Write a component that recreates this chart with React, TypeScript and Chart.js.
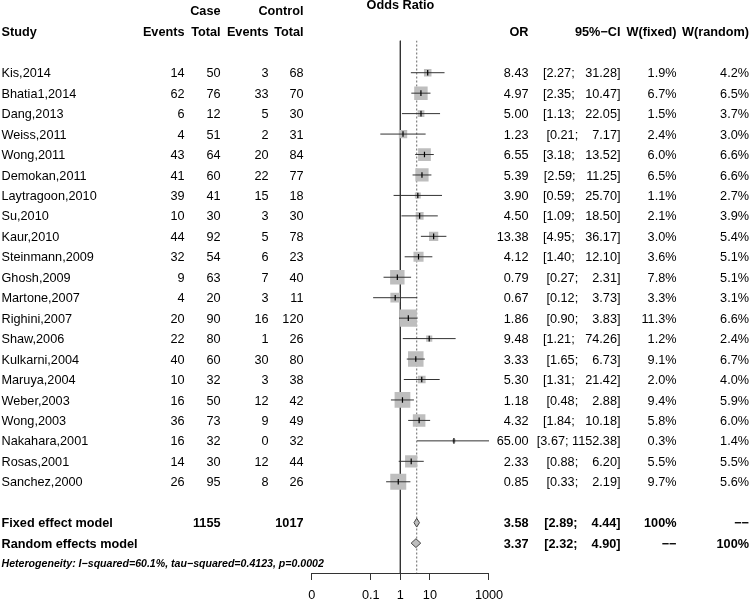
import React, { useEffect, useRef } from 'react';
import { Chart, registerables } from 'chart.js';

Chart.register(...registerables);

// ---------- data ----------
const STUDIES = [
  'Kis,2014', 'Bhatia1,2014', 'Dang,2013', 'Weiss,2011', 'Wong,2011', 'Demokan,2011',
  'Laytragoon,2010', 'Su,2010', 'Kaur,2010', 'Steinmann,2009', 'Ghosh,2009', 'Martone,2007',
  'Righini,2007', 'Shaw,2006', 'Kulkarni,2004', 'Maruya,2004', 'Weber,2003', 'Wong,2003',
  'Nakahara,2001', 'Rosas,2001', 'Sanchez,2000',
];
const CASE_EVENTS = [14, 62, 6, 4, 43, 41, 39, 10, 44, 32, 9, 4, 20, 22, 40, 10, 16, 36, 16, 14, 26];
const CASE_TOTAL = [50, 76, 12, 51, 64, 60, 41, 30, 92, 54, 63, 20, 90, 80, 60, 32, 50, 73, 32, 30, 95];
const CTRL_EVENTS = [3, 33, 5, 2, 20, 22, 15, 3, 5, 6, 7, 3, 16, 1, 30, 3, 12, 9, 0, 12, 8];
const CTRL_TOTAL = [68, 70, 30, 31, 84, 77, 18, 30, 78, 23, 40, 11, 120, 26, 80, 38, 42, 49, 32, 44, 26];
const OR = [8.43, 4.97, 5.0, 1.23, 6.55, 5.39, 3.9, 4.5, 13.38, 4.12, 0.79, 0.67, 1.86, 9.48, 3.33, 5.3, 1.18, 4.32, 65.0, 2.33, 0.85];
const CI_LO = [2.27, 2.35, 1.13, 0.21, 3.18, 2.59, 0.59, 1.09, 4.95, 1.4, 0.27, 0.12, 0.9, 1.21, 1.65, 1.31, 0.48, 1.84, 3.67, 0.88, 0.33];
const CI_HI = [31.28, 10.47, 22.05, 7.17, 13.52, 11.25, 25.7, 18.5, 36.17, 12.1, 2.31, 3.73, 3.83, 74.26, 6.73, 21.42, 2.88, 10.18, 1152.38, 6.2, 2.19];
const W_FIXED = [1.9, 6.7, 1.5, 2.4, 6.0, 6.5, 1.1, 2.1, 3.0, 3.6, 7.8, 3.3, 11.3, 1.2, 9.1, 2.0, 9.4, 5.8, 0.3, 5.5, 9.7];
const W_RANDOM = [4.2, 6.5, 3.7, 3.0, 6.6, 6.6, 2.7, 3.9, 5.4, 5.1, 5.1, 3.1, 6.6, 2.4, 6.7, 4.0, 5.9, 6.0, 1.4, 5.5, 5.6];

const SUMMARY_LABELS = ['Fixed effect model', 'Random effects model'];
const SUMMARY_CASE_TOTAL = ['1155', ''];
const SUMMARY_CTRL_TOTAL = ['1017', ''];
const SUMMARY_OR = [3.58, 3.37];
const SUMMARY_LO = [2.89, 2.32];
const SUMMARY_HI = [4.44, 4.9];
const SUMMARY_W_FIXED = ['100%', '\u2212\u2212'];
const SUMMARY_W_RANDOM = ['\u2212\u2212', '100%'];
const HETEROGENEITY = 'Heterogeneity: I\u2212squared=60.1%, tau\u2212squared=0.4123, p=0.0002';

const TICK_VALUES = [0.001, 0.1, 1, 10, 1000];
const TICK_LABELS = ['0', '0.1', '1', '10', '1000'];
const NULL_EFFECT = 1;
const AXIS_TITLE = 'Odds Ratio';

// ---------- layout / style ----------
const FONT = '"Liberation Sans", Arial, Helvetica, sans-serif';
const FS = 12.7;
const Y_MIN = -1.575;
const Y_MAX = 24.46;
const SQUARE_GREY = '#BEBEBE';

const fmtCI = (lo: number, hi: number, pad: number) =>
  `[${lo.toFixed(2)}; ${hi.toFixed(2).padStart(pad, ' ')}]`;

const tablePlugin = {
  id: 'forestTable',
  afterDraw(chart: any) {
    const ctx: CanvasRenderingContext2D = chart.ctx;
    const ys = chart.scales.y;
    const area = chart.chartArea;
    const pad = Math.max(...CI_HI.map((v) => v.toFixed(2).length), ...SUMMARY_HI.map((v) => v.toFixed(2).length));
    const capOff = 0.358 * FS;
    const put = (s: string, x: number, y: number, align: CanvasTextAlign, bold = false, italic = false, size = FS) => {
      ctx.font = `${italic ? 'italic ' : ''}${bold ? 'bold ' : ''}${size}px ${FONT}`;
      ctx.textAlign = align;
      ctx.fillText(s, x, y);
    };
    const C = { study: 1.5, ce: 184.5, ct: 220.5, ke: 268.5, kt: 303.5, or: 528.5, ci: 620.5, wf: 676.5, wr: 749 };
    ctx.save();
    ctx.fillStyle = '#000';
    ctx.textBaseline = 'alphabetic';

    // headers
    put(AXIS_TITLE, (area.left + area.right) / 2, 9.3, 'center', true);
    put('Case', C.ct, 15.3, 'right', true);
    put('Control', C.kt, 15.3, 'right', true);
    const hy = 35.9;
    put('Study', C.study, hy, 'left', true);
    put('Events', C.ce, hy, 'right', true);
    put('Total', C.ct, hy, 'right', true);
    put('Events', C.ke, hy, 'right', true);
    put('Total', C.kt, hy, 'right', true);
    put('OR', C.or, hy, 'right', true);
    put('95%\u2212CI', C.ci, hy, 'right', true);
    put('W(fixed)', C.wf, hy, 'right', true);
    put('W(random)', C.wr, hy, 'right', true);

    // studies
    STUDIES.forEach((name, i) => {
      const y = ys.getPixelForValue(i) + capOff;
      put(name, C.study, y, 'left');
      put(String(CASE_EVENTS[i]), C.ce, y, 'right');
      put(String(CASE_TOTAL[i]), C.ct, y, 'right');
      put(String(CTRL_EVENTS[i]), C.ke, y, 'right');
      put(String(CTRL_TOTAL[i]), C.kt, y, 'right');
      put(OR[i].toFixed(2), C.or, y, 'right');
      put(fmtCI(CI_LO[i], CI_HI[i], pad), C.ci, y, 'right');
      put(W_FIXED[i].toFixed(1) + '%', C.wf, y, 'right');
      put(W_RANDOM[i].toFixed(1) + '%', C.wr, y, 'right');
    });

    // summaries
    SUMMARY_LABELS.forEach((label, j) => {
      const y = ys.getPixelForValue(STUDIES.length + 1 + j) + capOff;
      put(label, C.study, y, 'left', true);
      put(SUMMARY_CASE_TOTAL[j], C.ct, y, 'right', true);
      put(SUMMARY_CTRL_TOTAL[j], C.kt, y, 'right', true);
      put(SUMMARY_OR[j].toFixed(2), C.or, y, 'right', true);
      put(fmtCI(SUMMARY_LO[j], SUMMARY_HI[j], pad), C.ci, y, 'right', true);
      put(SUMMARY_W_FIXED[j], C.wf, y, 'right', true);
      put(SUMMARY_W_RANDOM[j], C.wr, y, 'right', true);
    });

    const hs = FS * 0.835;
    put(HETEROGENEITY, C.study, ys.getPixelForValue(STUDIES.length + 3) + 0.358 * hs, 'left', true, true, hs);
    ctx.restore();
  },
};

export default function App() {
  const ref = useRef<HTMLCanvasElement | null>(null);

  useEffect(() => {
    document.body.style.margin = '0';
    const canvas = ref.current;
    if (!canvas) return;
    const maxW = Math.max(...W_FIXED);
    const studyPts = STUDIES.map((_, i) => ({ x: OR[i], y: i }));
    const ciPts: any[] = [];
    STUDIES.forEach((_, i) => {
      ciPts.push({ x: CI_LO[i], y: i }, { x: CI_HI[i], y: i }, { x: null, y: null });
    });
    const diamond = (j: number) => {
      const r = STUDIES.length + 1 + j;
      const h = 0.215;
      return [
        { x: SUMMARY_LO[j], y: r },
        { x: SUMMARY_OR[j], y: r - h },
        { x: SUMMARY_HI[j], y: r },
        { x: SUMMARY_OR[j], y: r + h },
        { x: SUMMARY_LO[j], y: r },
      ];
    };

    const chart = new Chart(canvas, {
      type: 'scatter',
      data: {
        datasets: [
          {
            data: studyPts,
            order: 0,
            showLine: false,
            pointStyle: 'line',
            pointRotation: 90,
            pointRadius: 2.8,
            pointBorderColor: '#000',
            pointBorderWidth: 1.2,
          } as any,
          {
            data: ciPts,
            order: 1,
            showLine: true,
            spanGaps: false,
            borderColor: '#333',
            borderWidth: 1,
            pointRadius: 0,
          },
          {
            data: studyPts,
            order: 2,
            showLine: false,
            pointStyle: 'rect',
            pointRadius: (c: any) => (16.4 * Math.sqrt(W_FIXED[c.dataIndex] / maxW) + 0.8) / Math.SQRT2,
            pointBackgroundColor: SQUARE_GREY,
            pointBorderWidth: 0,
            pointBorderColor: 'rgba(0,0,0,0)',
          },
          ...[0, 1].map((j) => ({
            data: diamond(j),
            order: 3,
            showLine: true,
            fill: 'shape',
            backgroundColor: SQUARE_GREY,
            borderColor: '#444',
            borderWidth: 1,
            pointRadius: 0,
            tension: 0,
          })),
          {
            data: [{ x: SUMMARY_OR[0], y: Y_MIN }, { x: SUMMARY_OR[0], y: Y_MAX }],
            order: 4,
            showLine: true,
            borderColor: '#666',
            borderWidth: 1,
            borderDash: [2, 2],
            pointRadius: 0,
          },
          {
            data: [{ x: NULL_EFFECT, y: Y_MIN }, { x: NULL_EFFECT, y: Y_MAX }],
            order: 5,
            showLine: true,
            borderColor: '#333',
            borderWidth: 1,
            pointRadius: 0,
          },
        ] as any,
      },
      options: {
        responsive: false,
        animation: false,
        events: [],
        layout: { padding: { left: 311.7, right: 261, top: 40.5, bottom: 0 } },
        plugins: { legend: { display: false }, tooltip: { enabled: false } },
        scales: {
          x: {
            type: 'logarithmic',
            min: TICK_VALUES[0],
            max: TICK_VALUES[TICK_VALUES.length - 1],
            position: 'bottom',
            afterBuildTicks: (scale: any) => {
              scale.ticks = TICK_VALUES.map((v) => ({ value: v }));
            },
            afterFit: (scale: any) => {
              scale.height = 28;
            },
            ticks: {
              autoSkip: false,
              maxRotation: 0,
              padding: 8,
              color: '#000',
              font: { family: FONT, size: FS },
              callback: (v: any) => {
                const k = TICK_VALUES.findIndex((t) => Math.abs(Math.log10(t) - Math.log10(Number(v))) < 1e-6);
                return k >= 0 ? TICK_LABELS[k] : '';
              },
            },
            grid: { drawOnChartArea: false, drawTicks: true, tickLength: 7, color: '#333', lineWidth: 1 },
            border: { display: true, color: '#333', width: 1 },
          },
          y: {
            type: 'linear',
            display: false,
            reverse: true,
            min: Y_MIN,
            max: Y_MAX,
          },
        },
      } as any,
      plugins: [tablePlugin],
    });
    return () => chart.destroy();
  }, []);

  return (
    <div style={{ width: 750, height: 601, background: '#fff' }}>
      <canvas ref={ref} width={750} height={601} style={{ display: 'block' }} />
    </div>
  );
}
